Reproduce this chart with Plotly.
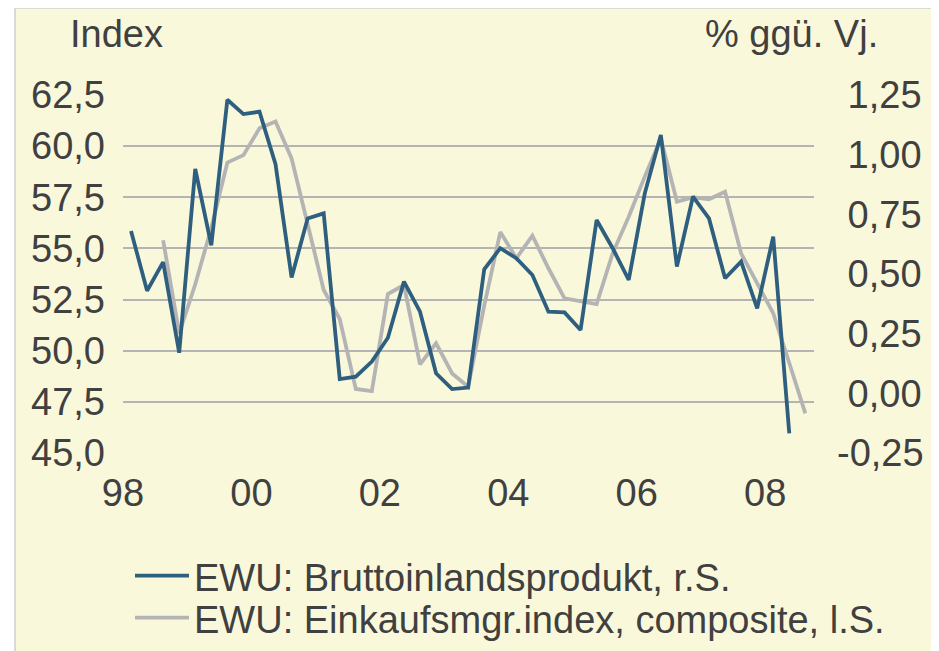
import plotly.graph_objects as go

# ---- data ----
gdp_start_year = 1998
gdp_values = [0.68, 0.43, 0.55, 0.17, 0.94, 0.62, 1.23, 1.17, 1.18, 0.96,
              0.485, 0.733, 0.754, 0.06, 0.07, 0.133, 0.233, 0.468, 0.342, 0.084,
              0.018, 0.024, 0.52, 0.608, 0.566, 0.496, 0.342, 0.339, 0.265, 0.726,
              0.608, 0.475, 0.838, 1.082, 0.531, 0.824, 0.733, 0.482, 0.552, 0.356,
              0.656, -0.168]  # 1998Q1 .. 2008Q2
pmi_start_quarter = 2  # 1998Q3 (0-based index)
pmi_values = [55.4, 50.85, 53.25, 56.0, 59.2, 59.56, 60.87, 61.2, 59.4, 56.2,
              52.97, 51.55, 48.13, 48.03, 52.77, 53.21, 49.33, 50.36, 48.89, 48.24,
              52.2, 55.8, 54.52, 55.62, 54.03, 52.56, 52.43, 52.28, 54.76, 56.55,
              58.51, 60.38, 57.29, 57.5, 57.4, 57.77, 54.76, 53.29, 51.83, 49.4,
              46.94]  # 1998Q3 .. 2008Q3

x_tick_vals = [1998, 2000, 2002, 2004, 2006, 2008]
x_tick_text = ["98", "00", "02", "04", "06", "08"]
left_ticks = [45.0, 47.5, 50.0, 52.5, 55.0, 57.5, 60.0, 62.5]
left_tick_text = ["45,0", "47,5", "50,0", "52,5", "55,0", "57,5", "60,0", "62,5"]
right_ticks = [-0.25, 0.0, 0.25, 0.5, 0.75, 1.0, 1.25]
right_tick_text = ["-0,25", "\u20080,00", "\u20080,25", "\u20080,50", "\u20080,75", "\u20081,00", "\u20081,25"]

name_gdp = "EWU: Bruttoinlandsprodukt, r.S."
name_pmi = "EWU: Einkaufsmgr.index, composite, l.S."


def qpos(i):
    return gdp_start_year + 0.125 + 0.25 * i


x_gdp = [qpos(i) for i in range(len(gdp_values))]
x_pmi = [qpos(pmi_start_quarter + i) for i in range(len(pmi_values))]

BG = "#FAF8DB"
TXT = "#404040"
FONT = "Liberation Sans, Arial, sans-serif"
FS = 38

fig = go.Figure()
fig.add_trace(go.Scatter(x=x_gdp, y=gdp_values, name=name_gdp, mode="lines",
                         line=dict(color="#2F5F7F", width=3.8), yaxis="y2",
                         legend="legend"))
fig.add_trace(go.Scatter(x=x_pmi, y=pmi_values, name=name_pmi, mode="lines",
                         line=dict(color="#B4B4B4", width=3.8), yaxis="y",
                         legend="legend2"))

# page body has an 8px default margin -> figure sits at (8, 8)
OFF = 8
W, H = 939 - OFF, 651 - OFF
L, T = 123 - OFF, 95 - OFF
pw, ph = 691, 358
R, B = W - L - pw, H - T - ph


def px(xr):  # reference-screen x -> paper
    return (xr - OFF - L) / pw


def py(yr):  # reference-screen y -> paper
    return (H - B - (yr - OFF)) / ph


fig.add_shape(type="rect", xref="paper", yref="paper",
              x0=px(15), x1=px(936), y0=py(720), y1=py(8),
              fillcolor=BG, line=dict(color="#CFCFCF", width=1.5), layer="below")

leg_common = dict(xanchor="left", yanchor="middle", bgcolor="rgba(0,0,0,0)",
                  font=dict(size=FS, color=TXT, family=FONT), itemwidth=54)

fig.update_layout(
    width=W, height=H,
    margin=dict(l=L, r=R, t=T, b=B, pad=0, autoexpand=False),
    paper_bgcolor="white", plot_bgcolor="rgba(0,0,0,0)",
    font=dict(family=FONT, size=FS, color=TXT),
    showlegend=True,
    legend=dict(x=px(130), y=py(576), **leg_common),
    legend2=dict(x=px(130), y=py(618), **leg_common),
    xaxis=dict(range=[1998, 2008.76], tickvals=x_tick_vals, ticktext=x_tick_text,
               showgrid=False, zeroline=False, showline=False, ticks="",
               ticklabelstandoff=14),
    yaxis=dict(range=[45, 62.5], tickvals=left_ticks, ticktext=left_tick_text,
               showgrid=True, gridcolor="#B4B4B4", gridwidth=1.5, zeroline=False,
               showline=False, ticks="", ticklabelstandoff=17),
    yaxis2=dict(range=[-0.25, 1.25], tickvals=right_ticks, ticktext=right_tick_text,
                overlaying="y", side="right", showgrid=False, zeroline=False,
                showline=False, ticks="", ticklabelstandoff=22),
    annotations=[
        dict(text="Index", xref="paper", yref="paper", x=px(68), y=py(34),
             xanchor="left", yanchor="middle", showarrow=False,
             font=dict(size=FS, color=TXT)),
        dict(text="% ggü. Vj.", xref="paper", yref="paper", x=px(880), y=py(34),
             xanchor="right", yanchor="middle", showarrow=False,
             font=dict(size=FS, color=TXT)),
    ],
)

fig.write_html("out.html")
